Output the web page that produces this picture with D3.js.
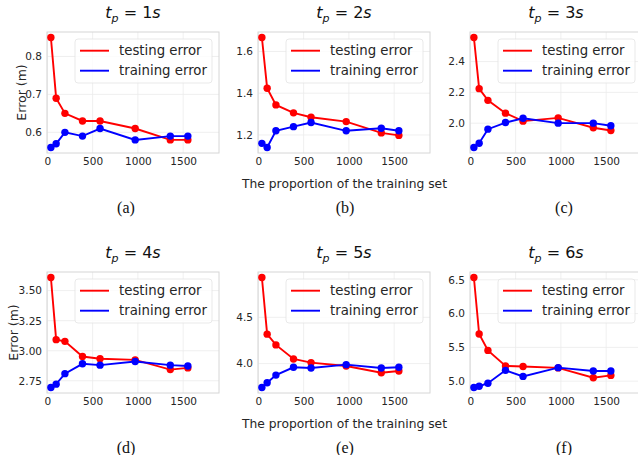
<!DOCTYPE html>
<html>
<head>
<meta charset="utf-8">
<script src="https://cdn.jsdelivr.net/npm/d3@7"></script>
<style>
  html, body { margin: 0; padding: 0; background: #fff; }
  svg { display: block; }
</style>
</head>
<body>
<svg id="chart" width="638" height="455"></svg>
<script>
// ---------- data ----------
const xValues = [39, 97, 194, 388, 582, 970, 1358, 1552];
const xTicks = [0, 500, 1000, 1500];

const titleNums = ["1", "2", "3", "4", "5", "6"];
const panelLetters = ["(a)", "(b)", "(c)", "(d)", "(e)", "(f)"];

const testA = [0.85, 0.69, 0.65, 0.63, 0.63, 0.61, 0.58, 0.58];
const trainA = [0.56, 0.57, 0.60, 0.59, 0.61, 0.58, 0.59, 0.59];
const testB = [1.667, 1.424, 1.344, 1.306, 1.285, 1.264, 1.21, 1.198];
const trainB = [1.16, 1.14, 1.22, 1.24, 1.26, 1.22, 1.232, 1.22];
const testC = [2.556, 2.224, 2.148, 2.065, 2.013, 2.034, 1.97, 1.952];
const trainC = [1.842, 1.87, 1.961, 2.004, 2.032, 2.0, 2.0, 1.983];
const testD = [3.609, 3.092, 3.078, 2.952, 2.933, 2.924, 2.843, 2.857];
const trainD = [2.694, 2.722, 2.809, 2.891, 2.88, 2.91, 2.88, 2.873];
const testE = [4.93, 4.318, 4.202, 4.05, 4.011, 3.974, 3.902, 3.92];
const trainE = [3.742, 3.793, 3.876, 3.96, 3.952, 3.989, 3.952, 3.96];
const testF = [6.534, 5.698, 5.455, 5.226, 5.217, 5.196, 5.05, 5.085];
const trainF = [4.906, 4.925, 4.97, 5.16, 5.07, 5.2, 5.15, 5.15];

const yTicksA = [0.6, 0.7, 0.8];
const yTicksB = [1.2, 1.4, 1.6];
const yTicksC = [2.0, 2.2, 2.4];
const yTicksD = [2.75, 3.00, 3.25, 3.50];
const yTicksE = [4.0, 4.5];
const yTicksF = [5.0, 5.5, 6.0, 6.5];

const seriesNames = ["testing error", "training error"];
const xLabel = "The proportion of the training set";
const yLabel = "Error (m)";

// ---------- layout ----------
const panels = [
  { test: testA, train: trainA, ticks: yTicksA, fmt: ".1f" },
  { test: testB, train: trainB, ticks: yTicksB, fmt: ".1f" },
  { test: testC, train: trainC, ticks: yTicksC, fmt: ".1f" },
  { test: testD, train: trainD, ticks: yTicksD, fmt: ".2f" },
  { test: testE, train: trainE, ticks: yTicksE, fmt: ".1f" },
  { test: testF, train: trainF, ticks: yTicksF, fmt: ".1f" },
];
const colX = [47, 258, 470];
const rowY = [32, 272];
const yLabelOffset = [-25.5, -33];
const W = 172, H = 121;
const RED = "#ff0000", BLUE = "#0000ff";
const TXT = "#262626";
const SANS = "'DejaVu Sans', sans-serif";

const svg = d3.select("#chart");

panels.forEach((p, i) => {
  const col = i % 3, row = Math.floor(i / 3);
  const g = svg.append("g").attr("transform", `translate(${colX[col]},${rowY[row]})`);

  const x = d3.scaleLinear().domain([-4, 1896]).range([0, W]);
  const all = p.test.concat(p.train);
  const [lo, hi] = d3.extent(all);
  const pad = (hi - lo) * 0.05;
  const y = d3.scaleLinear().domain([lo - pad, hi + pad]).range([H, 0]);

  // clip
  const clipId = "clip" + i;
  g.append("clipPath").attr("id", clipId).append("rect")
    .attr("x", -5).attr("y", -5).attr("width", W + 10).attr("height", H + 10);

  // grid
  g.append("g").selectAll("line").data(xTicks).join("line")
    .attr("x1", d => x(d)).attr("x2", d => x(d)).attr("y1", 0).attr("y2", H)
    .attr("stroke", "#ebebeb").attr("stroke-width", 0.8);
  g.append("g").selectAll("line").data(p.ticks).join("line")
    .attr("y1", d => y(d)).attr("y2", d => y(d)).attr("x1", 0).attr("x2", W)
    .attr("stroke", "#ebebeb").attr("stroke-width", 0.8);

  // axes (labels via d3 axis, no ticks/domain)
  const xAxis = g.append("g").attr("transform", `translate(0,${H})`)
    .call(d3.axisBottom(x).tickValues(xTicks).tickSize(0).tickPadding(5).tickFormat(d3.format("d")));
  const yAxis = g.append("g")
    .call(d3.axisLeft(y).tickValues(p.ticks).tickSize(0).tickPadding(5).tickFormat(d3.format(p.fmt)));
  [xAxis, yAxis].forEach(a => {
    a.select(".domain").remove();
    a.selectAll("text").attr("font-family", SANS).attr("font-size", "10.5px").attr("fill", TXT);
  });

  // spines
  g.append("rect").attr("width", W).attr("height", H)
    .attr("fill", "none").attr("stroke", "#d6d6d6").attr("stroke-width", 1);

  // lines
  const plot = g.append("g").attr("clip-path", `url(#${clipId})`);
  const line = d3.line().x((d, k) => x(xValues[k])).y(d => y(d));
  [[p.test, RED], [p.train, BLUE]].forEach(([vals, c]) => {
    plot.append("path").datum(vals).attr("d", line)
      .attr("fill", "none").attr("stroke", c).attr("stroke-width", 1.9);
    plot.append("g").selectAll("circle").data(vals).join("circle")
      .attr("cx", (d, k) => x(xValues[k])).attr("cy", d => y(d))
      .attr("r", 3.7).attr("fill", c);
  });

  // legend
  const lg = g.append("g").attr("transform", `translate(${W - 7 - 137},7)`);
  lg.append("rect").attr("width", 137).attr("height", 44).attr("rx", 3)
    .attr("fill", "#ffffff").attr("fill-opacity", 0.8)
    .attr("stroke", "#e3e3e3").attr("stroke-width", 0.8);
  [RED, BLUE].forEach((c, k) => {
    const yy = 11.7 + k * 20;
    lg.append("line").attr("x1", 5).attr("x2", 34).attr("y1", yy).attr("y2", yy)
      .attr("stroke", c).attr("stroke-width", 1.9);
    lg.append("text").attr("x", 44).attr("y", yy).attr("dy", "0.35em")
      .attr("font-family", SANS).attr("font-size", "13.3px").attr("fill", TXT)
      .text(seriesNames[k]);
  });

  // title t_p = Ns
  const t = g.append("text").attr("x", W / 2).attr("y", -14)
    .attr("text-anchor", "middle").attr("font-family", SANS).attr("font-size", "16px")
    .attr("fill", "#111");
  t.append("tspan").attr("font-style", "italic").text("t");
  t.append("tspan").attr("font-style", "italic").attr("font-size", "11px").attr("dy", 3.5).text("p");
  t.append("tspan").attr("dy", -3.5).text(" = " + titleNums[i]);
  t.append("tspan").attr("font-style", "italic").text("s");

  // y label
  if (col === 0) {
    g.append("text").attr("transform", `translate(${yLabelOffset[row]},${H / 2}) rotate(-90)`)
      .attr("text-anchor", "middle").attr("dy", "0.35em")
      .attr("font-family", SANS).attr("font-size", "12.5px").attr("fill", TXT)
      .text(yLabel);
  }
  // x label
  if (col === 1) {
    g.append("text").attr("x", W / 2 + 0.5).attr("y", H + 31).attr("dy", "0.35em")
      .attr("text-anchor", "middle")
      .attr("font-family", SANS).attr("font-size", "12.3px").attr("fill", TXT)
      .text(xLabel);
  }
  // sub label
  const subX = [126, 345, 564][col];
  svg.append("text").attr("x", subX).attr("y", rowY[row] + 175).attr("dy", "0.35em")
    .attr("text-anchor", "middle")
    .attr("font-family", "'Liberation Serif', 'Times New Roman', serif")
    .attr("font-size", "16px").attr("fill", "#111")
    .text(panelLetters[i]);
});
</script>
</body>
</html>
